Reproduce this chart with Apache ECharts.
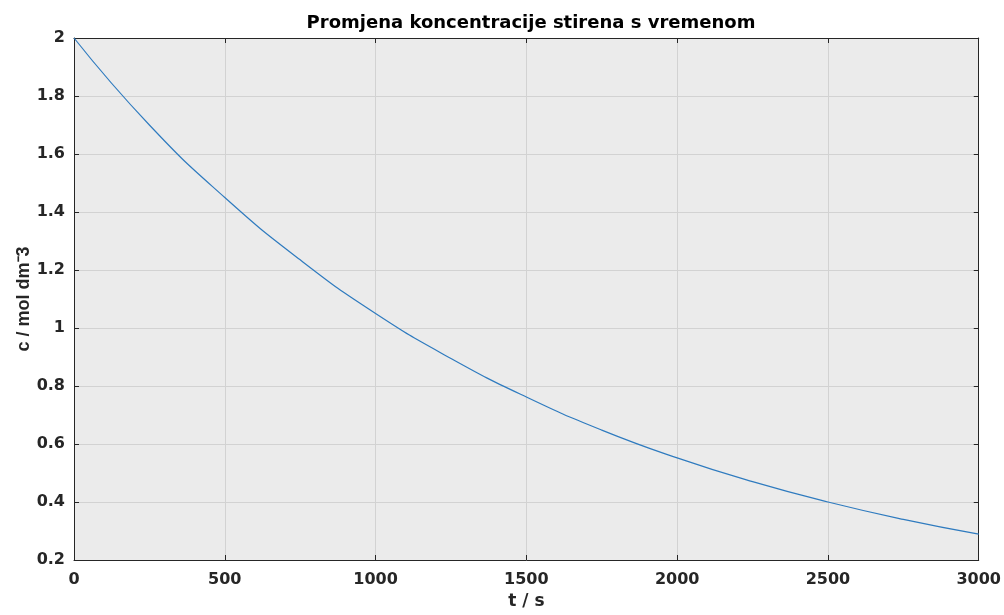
<!DOCTYPE html>
<html>
<head>
<meta charset="utf-8">
<script src="https://cdn.jsdelivr.net/npm/echarts@6/dist/echarts.min.js"></script>
<style>html,body{margin:0;padding:0;background:#fff}#c{width:1004px;height:615px}</style>
</head>
<body>
<div id="c"></div>
<script>
const times = [0, 250, 500, 750, 1000, 1250, 1500, 1750, 2000, 2250, 2500, 2750, 3000];
const conc = [2.0, 1.70, 1.45, 1.235, 1.05, 0.895, 0.762, 0.648, 0.552, 0.47, 0.40, 0.34, 0.289];
const titleText = 'Promjena koncentracije stirena s vremenom';
const xName = 't / s';
const yName = 'c / mol dm\u207B3';

const chart = echarts.init(document.getElementById('c'), null, {renderer: 'canvas'});
const font = '"DejaVu Sans", sans-serif';
const fontV = '"Liberation Sans", Arial, sans-serif';
const dark = '#262626';
const baseX = {
  type: 'value', min: 0, max: 3000, interval: 500,
  axisLine: {show: true, onZero: false, lineStyle: {color: dark, width: 1}},
  axisTick: {show: true, inside: true, length: 5, lineStyle: {color: dark}},
  splitLine: {show: false}
};
const baseY = {
  type: 'value', min: 0.2, max: 2, interval: 0.2,
  axisLine: {show: true, onZero: false, lineStyle: {color: dark, width: 1}},
  axisTick: {show: true, inside: true, length: 5, lineStyle: {color: dark}},
  splitLine: {show: false}
};
chart.setOption({
  animation: false,
  backgroundColor: '#ffffff',
  title: {
    text: titleText, left: 526, textAlign: 'center', top: 9,
    textStyle: {fontFamily: font, fontWeight: 'bold', fontSize: 18, color: '#000'}
  },
  grid: {left: 74, right: 25, top: 38, bottom: 52, show: true, backgroundColor: '#ebebeb', borderWidth: 0},
  xAxis: [
    Object.assign({}, baseX, {
      position: 'bottom',
      name: xName, nameLocation: 'middle', nameGap: 33, nameMoveOverlap: false,
      nameTextStyle: {fontFamily: font, fontWeight: 'bold', fontSize: 17, color: dark},
      axisLabel: {fontFamily: font, fontWeight: 'bold', fontSize: 16, color: dark, margin: 12,
        formatter: v => String(v)},
      splitLine: {show: true, lineStyle: {color: '#d2d2d2', width: 1}}
    }),
    Object.assign({}, baseX, {position: 'top', axisLabel: {show: false}})
  ],
  yAxis: [
    Object.assign({}, baseY, {
      position: 'left',
      name: yName, nameLocation: 'middle', nameGap: 41, nameMoveOverlap: false,
      nameTextStyle: {fontFamily: fontV, fontWeight: 'bold', fontSize: 18, color: dark},
      axisLabel: {fontFamily: font, fontWeight: 'bold', fontSize: 16, color: dark, margin: 9,
        formatter: v => String(parseFloat(v.toFixed(1)))},
      splitLine: {show: true, lineStyle: {color: '#d2d2d2', width: 1}}
    }),
    Object.assign({}, baseY, {position: 'right', axisLabel: {show: false}})
  ],
  series: [{
    type: 'line', xAxisIndex: 0, yAxisIndex: 0,
    data: times.map((t, i) => [t, conc[i]]),
    smooth: true, showSymbol: false,
    lineStyle: {color: '#2f7bbf', width: 1.2}
  }]
});
</script>
</body>
</html>
